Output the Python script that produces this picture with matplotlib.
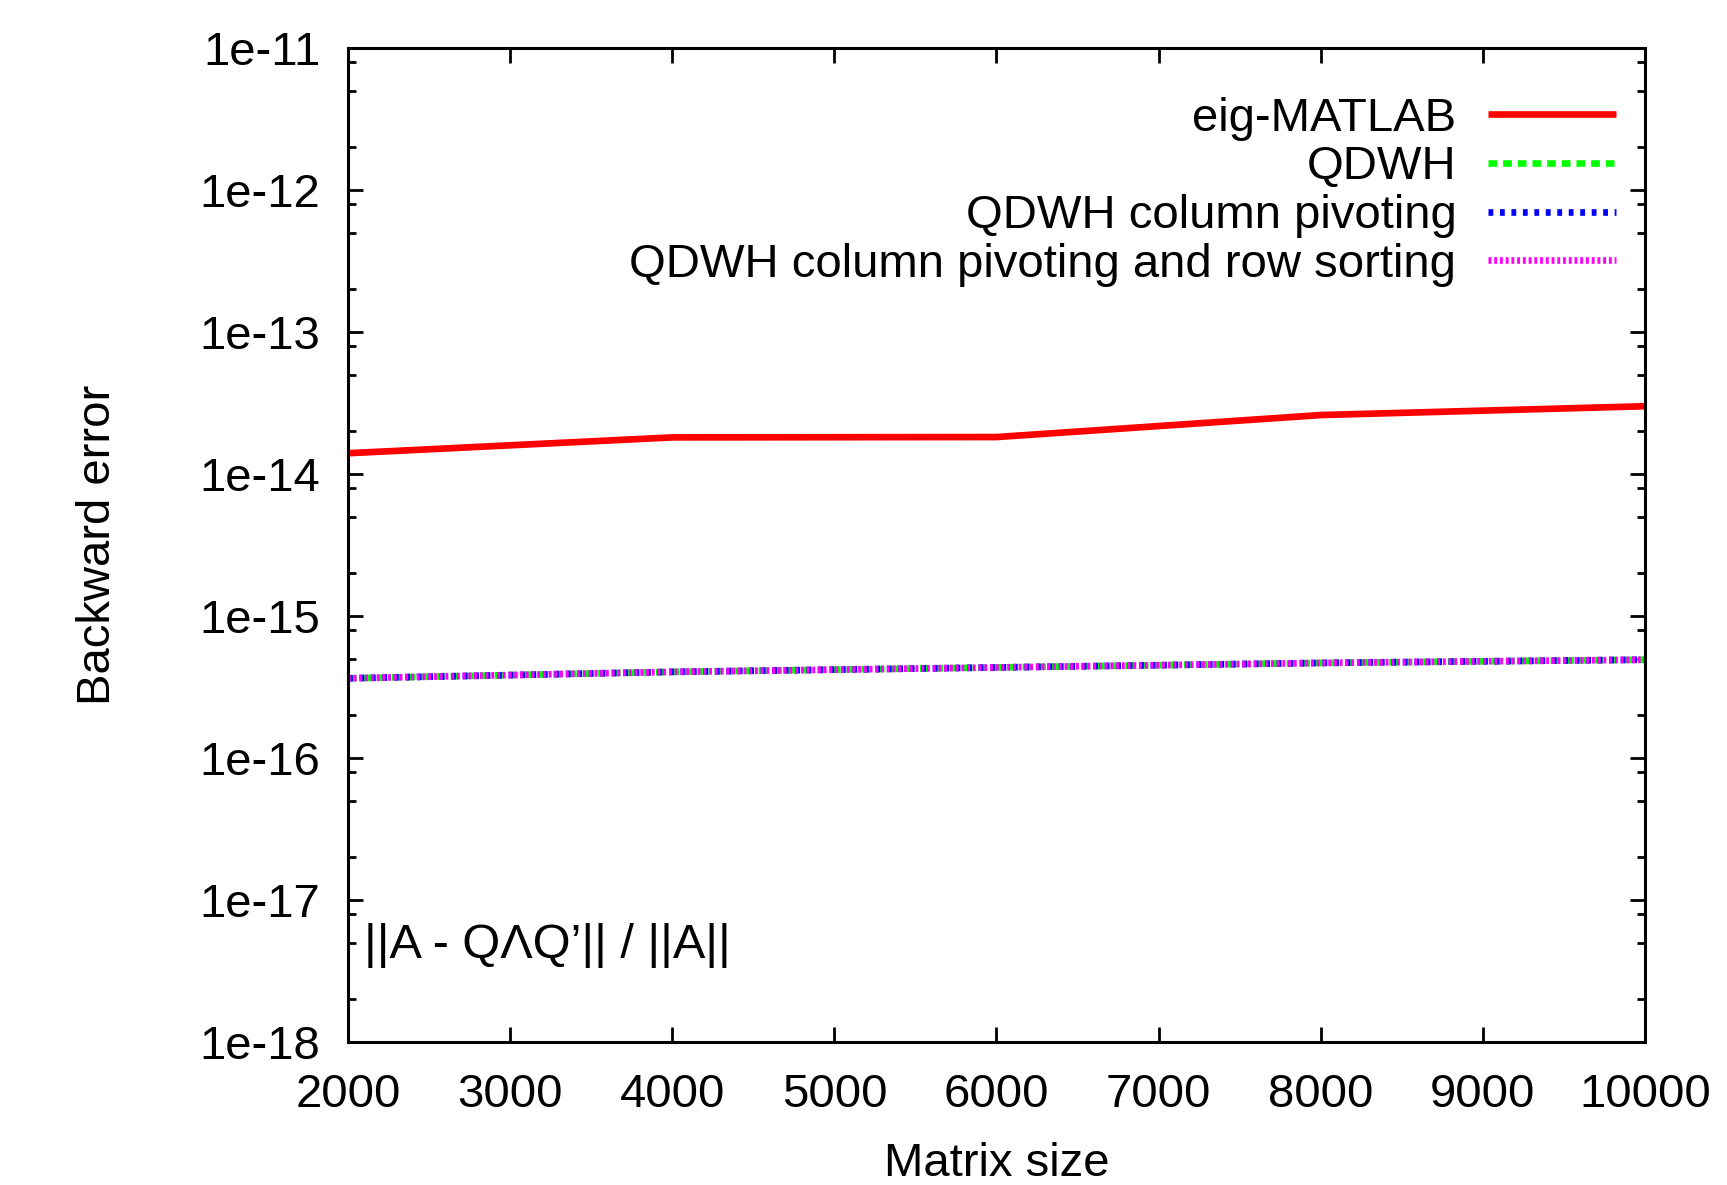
import matplotlib
matplotlib.use("Agg")
import matplotlib.pyplot as plt
from matplotlib.ticker import LogLocator, NullFormatter, FixedLocator

plt.rcParams['font.family'] = ['Liberation Sans', 'DejaVu Sans']

# data
sizes = [2000, 4000, 6000, 8000, 10000]
eig_matlab = [1.40e-14, 1.81e-14, 1.82e-14, 2.60e-14, 3.00e-14]
qdwh = [3.64e-16, 4.04e-16, 4.34e-16, 4.67e-16, 4.92e-16]
qdwh_cp = [3.64e-16, 4.04e-16, 4.34e-16, 4.67e-16, 4.92e-16]
qdwh_cp_rs = [3.64e-16, 4.04e-16, 4.34e-16, 4.67e-16, 4.92e-16]

labels = ["eig-MATLAB", "QDWH", "QDWH column pivoting",
          "QDWH column pivoting and row sorting"]
xticks = [2000, 3000, 4000, 5000, 6000, 7000, 8000, 9000, 10000]
ydecades = [1e-18, 1e-17, 1e-16, 1e-15, 1e-14, 1e-13, 1e-12, 1e-11]
ytick_labels = ["1e-18", "1e-17", "1e-16", "1e-15", "1e-14", "1e-13",
                "1e-12", "1e-11"]

fs = 34

fig = plt.figure(figsize=(17.27, 11.85), dpi=100)
ax = fig.add_axes([0.2015, 0.1207, 0.7510, 0.8388])

lw = 4.8
ax.plot(sizes, eig_matlab, color='#ff0000', lw=lw, label=labels[0],
        solid_capstyle='butt')
ax.plot(sizes, qdwh, color='#00ff00', lw=lw, dashes=(1.3, 0.9),
        label=labels[1])
ax.plot(sizes, qdwh_cp, color='#0000ff', lw=lw, dashes=(0.72, 1.0),
        label=labels[2])
ax.plot(sizes, qdwh_cp_rs, color='#ff00ff', lw=lw, dashes=(0.43, 0.43),
        label=labels[3])

ax.set_yscale('log')
ax.set_xlim(2000, 10000)
ax.set_ylim(1e-18, 1e-11)
ax.xaxis.set_major_locator(FixedLocator(xticks))
ax.set_xticklabels([str(t) for t in xticks])
ax.yaxis.set_major_locator(FixedLocator(ydecades))
ax.set_yticklabels(ytick_labels)
ax.yaxis.set_minor_locator(LogLocator(base=10, subs=[2, 5, 8], numticks=20))
ax.yaxis.set_minor_formatter(NullFormatter())

ax.tick_params(which='both', direction='in', top=True, right=True,
               labelsize=fs, width=2, color='black')
ax.tick_params(which='major', length=11)
ax.tick_params(which='minor', length=6)
ax.tick_params(axis='y', which='major', pad=20)
ax.tick_params(axis='x', which='major', pad=22)
for s in ax.spines.values():
    s.set_linewidth(2.2)

ax.set_xlabel("Matrix size", fontsize=fs, labelpad=18)
ax.set_ylabel("Backward error", fontsize=fs, labelpad=57)

ax.text(0.012, 0.097, "||A - Q\u039bQ\u2019|| / ||A||", transform=ax.transAxes,
        fontsize=35, ha='left', va='center')

leg = ax.legend(loc='upper right', bbox_to_anchor=(0.978, 0.951),
                fontsize=fs, frameon=False, markerfirst=False,
                handlelength=2.73, handletextpad=0.66, labelspacing=0.1,
                borderaxespad=0.0, borderpad=0.0)
for t in leg.get_texts():
    t.set_ha('right')

fig.savefig("out.png", dpi=100)
